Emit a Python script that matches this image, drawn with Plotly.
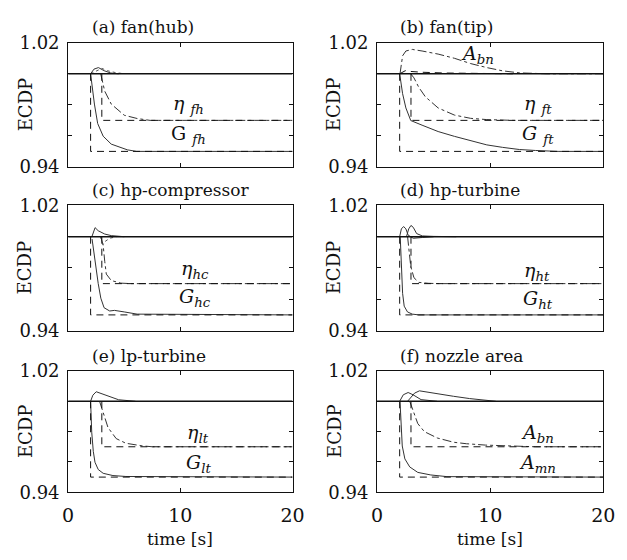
import plotly.graph_objects as go

# ---------------- data ----------------
# common reference / true-fault curves
base_t = [0, 20]
base_v = [1.0, 1.0]
fault2_t = [2.0, 2.0, 20]          # step fault at t = 2 s (to 0.95)
fault2_v = [1.0, 0.95, 0.95]
fault3_t = [3.0, 3.0, 20]          # step fault at t = 3 s (to 0.97)
fault3_v = [1.0, 0.97, 0.97]

# (a) fan(hub)
a_G_t = [2.0, 2.34, 2.63, 3.12, 3.84, 5.28, 6.1, 20]
a_G_v = [1.0, 0.9805, 0.968, 0.9598, 0.9547, 0.951, 0.950, 0.950]
a_eta_t = [2.9, 3.26, 3.84, 5.0, 6.15, 7.3, 20]
a_eta_v = [1.0, 0.9888, 0.9805, 0.9733, 0.9712, 0.970, 0.970]
a_o1_t = [2.0, 2.3, 2.7, 3.2, 3.8, 4.5]
a_o1_v = [1.0, 1.003, 1.004, 1.002, 1.0005, 1.0]
a_o2_t = [2.0, 2.5, 3.0, 3.5, 4.2, 5.0]
a_o2_v = [1.0, 1.002, 1.0035, 1.002, 1.0008, 1.0]

# (b) fan(tip)
b_A_t = [2.03, 2.26, 2.55, 3.12, 3.98, 5.4, 6.84, 8.27, 9.7, 11.1, 12.6, 13.4, 15.0, 20]
b_A_v = [1.0, 1.0116, 1.0147, 1.0157, 1.0147, 1.0127, 1.010, 1.0066, 1.004, 1.0019, 1.0006, 1.0003, 1.0, 1.0]
b_eta_t = [2.98, 3.26, 3.69, 4.27, 5.4, 6.84, 8.27, 9.7, 12.0, 20]
b_eta_v = [1.0, 0.9974, 0.9913, 0.9852, 0.978, 0.9734, 0.9713, 0.9705, 0.970, 0.970]
b_G_t = [2.0, 2.26, 2.55, 2.98, 3.98, 5.4, 6.84, 8.27, 9.7, 11.1, 12.6, 14.0, 16.0, 20]
b_G_v = [1.0, 0.9872, 0.978, 0.9699, 0.9669, 0.9628, 0.9597, 0.9567, 0.9542, 0.9526, 0.9512, 0.9506, 0.950, 0.950]
b_o1_t = [2.0, 2.5, 3.0, 4.0, 6.0, 9.0, 12.0]
b_o1_v = [1.0, 1.002, 1.0015, 1.001, 1.0005, 1.0002, 1.0]

# (c) hp-compressor
c_G_t = [2.13, 2.45, 2.68, 2.91, 3.2, 3.7, 4.13, 5.0, 6.15, 20]
c_G_v = [0.9985, 0.980, 0.970, 0.9607, 0.9546, 0.9525, 0.9529, 0.9519, 0.9505, 0.950]
c_eta_t = [2.9, 3.12, 3.26, 3.4, 3.84, 4.7, 5.6, 20]
c_eta_v = [1.0, 0.9946, 0.9843, 0.9761, 0.972, 0.9703, 0.970, 0.970]
c_o1_t = [2.1, 2.4, 2.68, 3.26, 3.84, 5.0]
c_o1_v = [0.9997, 1.0058, 1.0038, 1.0017, 1.0007, 1.0]
c_o2_t = [2.9, 3.1, 3.3, 3.7, 4.3]
c_o2_v = [1.0, 0.995, 0.997, 0.999, 1.0]

# (d) hp-turbine
d_G_t = [2.05, 2.2, 2.26, 2.4, 2.69, 3.12, 3.69, 20]
d_G_v = [1.0, 0.9802, 0.9638, 0.9556, 0.9519, 0.9505, 0.950, 0.950]
d_eta_t = [2.7, 2.98, 3.26, 3.69, 4.55, 5.5, 20]
d_eta_v = [1.0, 0.981, 0.9738, 0.9708, 0.9702, 0.970, 0.970]
d_o1_t = [2.0, 2.15, 2.35, 2.55, 2.75, 3.2, 4.0, 5.0]
d_o1_v = [1.0, 1.005, 1.0065, 1.005, 1.001, 0.999, 0.9995, 1.0]
d_o2_t = [2.6, 2.8, 3.0, 3.2, 3.5, 4.0, 5.0, 7.0]
d_o2_v = [1.0, 1.005, 1.0072, 1.006, 1.002, 1.0005, 1.0002, 1.0]

# (e) lp-turbine
e_G_t = [2.0, 2.1, 2.24, 2.39, 2.68, 3.12, 3.99, 5.15, 20]
e_G_v = [1.0, 0.9796, 0.967, 0.9598, 0.955, 0.9525, 0.951, 0.9504, 0.950]
e_eta_t = [2.8, 3.12, 3.55, 4.28, 5.15, 6.6, 7.5, 20]
e_eta_v = [1.0, 0.992, 0.9827, 0.9754, 0.9723, 0.9706, 0.970, 0.970]
e_o1_t = [2.0, 2.2, 2.5, 3.0, 3.6, 4.5, 6.0]
e_o1_v = [1.0, 1.004, 1.0063, 1.005, 1.003, 1.001, 1.0]

# (f) nozzle area
f_mn_t = [2.03, 2.12, 2.23, 2.46, 2.89, 3.6, 4.75, 6.18, 20]
f_mn_v = [1.0, 0.9832, 0.9705, 0.962, 0.9567, 0.9531, 0.9514, 0.9503, 0.950]
f_bn_t = [2.89, 3.18, 3.6, 4.18, 5.32, 6.76, 7.9, 9.6, 11.5, 14.0, 20]
f_bn_v = [1.0, 0.9938, 0.9853, 0.980, 0.9758, 0.973, 0.972, 0.9711, 0.9705, 0.970, 0.970]
f_o1_t = [2.7, 3.32, 3.75, 5.32, 6.76, 8.18, 9.6, 10.5]
f_o1_v = [1.0, 1.0054, 1.0069, 1.0048, 1.0033, 1.0018, 1.0005, 1.0]
f_o2_t = [2.0, 2.32, 2.75, 3.18, 3.89, 5.3]
f_o2_v = [1.0, 1.0043, 1.0058, 1.0043, 1.0011, 1.0]

titles = ["(a) fan(hub)", "(b) fan(tip)", "(c) hp-compressor",
          "(d) hp-turbine", "(e) lp-turbine", "(f) nozzle area"]
x_ticks = [0, 10, 20]
y_ticks = [0.94, 1.02]
y_ticktext = ["0.94", "1.02"]
y_minor_ticks = [0.96, 0.98, 1.00]

# ---------------- figure ----------------
W, H = 627, 560
FONT = "DejaVu Serif"
INK = "#111111"

col_dom = [(64 / W, 295 / W), (382 / W, 615 / W)]
row_px = [(33, 162), (202, 332), (374, 500)]
row_dom = [(1 - b / H, 1 - t / H) for (t, b) in row_px]

solid_est = dict(color="#333333", width=1)
dashdot_est = dict(color="#333333", width=1, dash="dashdot")
dotted = dict(color="#555555", width=1, dash="dot")
true_dash = dict(color=INK, width=1, dash="7px,5px")

panels = [
    dict(est=[(a_G_t, a_G_v, solid_est), (a_eta_t, a_eta_v, dashdot_est),
              (a_o1_t, a_o1_v, solid_est), (a_o2_t, a_o2_v, dotted)],
         faults=[(fault2_t, fault2_v), (fault3_t, fault3_v)],
         labels=[(10.7, 0.980, "<i>η</i> <sub><i>fh</i></sub>"),
                 (10.7, 0.961, "G <sub><i>fh</i></sub>")]),
    dict(est=[(b_A_t, b_A_v, dashdot_est), (b_eta_t, b_eta_v, dashdot_est),
              (b_G_t, b_G_v, solid_est), (b_o1_t, b_o1_v, true_dash)],
         faults=[(fault2_t, fault2_v), (fault3_t, fault3_v)],
         labels=[(8.9, 1.0127, "<i>A<sub>bn</sub></i>"),
                 (14.2, 0.980, "<i>η</i> <sub><i>ft</i></sub>"),
                 (14.2, 0.961, "<i>G</i> <sub><i>ft</i></sub>")]),
    dict(est=[(c_G_t, c_G_v, solid_est), (c_eta_t, c_eta_v, dashdot_est),
              (c_o1_t, c_o1_v, solid_est), (c_o2_t, c_o2_v, dotted)],
         faults=[(fault2_t, fault2_v), (fault3_t, fault3_v)],
         labels=[(11.3, 0.979, "<i>η<sub>hc</sub></i>"),
                 (11.3, 0.961, "<i>G<sub>hc</sub></i>")]),
    dict(est=[(d_G_t, d_G_v, solid_est), (d_eta_t, d_eta_v, dashdot_est),
              (d_o1_t, d_o1_v, solid_est), (d_o2_t, d_o2_v, solid_est)],
         faults=[(fault2_t, fault2_v), (fault3_t, fault3_v)],
         labels=[(14.1, 0.978, "<i>η<sub>ht</sub></i>"),
                 (14.2, 0.960, "<i>G<sub>ht</sub></i>")]),
    dict(est=[(e_G_t, e_G_v, solid_est), (e_eta_t, e_eta_v, dashdot_est),
              (e_o1_t, e_o1_v, solid_est)],
         faults=[(fault2_t, fault2_v), (fault3_t, fault3_v)],
         labels=[(11.6, 0.979, "<i>η<sub>lt</sub></i>"),
                 (11.6, 0.959, "<i>G<sub>lt</sub></i>")]),
    dict(est=[(f_mn_t, f_mn_v, solid_est), (f_bn_t, f_bn_v, dashdot_est),
              (f_o1_t, f_o1_v, solid_est), (f_o2_t, f_o2_v, solid_est)],
         faults=[(fault2_t, fault2_v), (fault3_t, fault3_v)],
         labels=[(14.2, 0.979, "<i>A<sub>bn</sub></i>"),
                 (14.2, 0.959, "<i>A<sub>mn</sub></i>")]),
]

fig = go.Figure()
annotations = []
layout_axes = {}

for i, p in enumerate(panels):
    r, c = divmod(i, 2)
    n = "" if i == 0 else str(i + 1)
    xa, ya = "x" + n, "y" + n
    # estimates
    for (tt, vv, ln) in p["est"]:
        fig.add_trace(go.Scatter(x=tt, y=vv, mode="lines", line=ln,
                                 xaxis=xa, yaxis=ya, showlegend=False, hoverinfo="skip"))
    # true faults
    for (tt, vv) in p["faults"]:
        fig.add_trace(go.Scatter(x=tt, y=vv, mode="lines", line=true_dash,
                                 xaxis=xa, yaxis=ya, showlegend=False, hoverinfo="skip"))
    # nominal line
    fig.add_trace(go.Scatter(x=base_t, y=base_v, mode="lines",
                             line=dict(color=INK, width=1.6),
                             xaxis=xa, yaxis=ya, showlegend=False, hoverinfo="skip"))
    for (lx, ly, txt) in p["labels"]:
        annotations.append(dict(x=lx, y=ly, xref=xa, yref=ya, text=txt, showarrow=False,
                                font=dict(family=FONT, size=19, color=INK)))

    bottom = (r == 2)
    layout_axes["xaxis" + n] = dict(
        domain=list(col_dom[c]), anchor=ya, range=[0, 20],
        tickvals=x_ticks, showticklabels=bottom, ticks="inside", ticklen=4,
        showline=True, mirror="ticks", linecolor=INK, linewidth=1, tickcolor=INK,
        showgrid=False, zeroline=False, fixedrange=True, ticklabelstandoff=6,
        tickfont=dict(family=FONT, size=19, color=INK))
    layout_axes["yaxis" + n] = dict(
        domain=list(row_dom[r]), anchor=xa, range=[0.94, 1.02],
        tickvals=y_ticks, ticktext=y_ticktext, ticks="inside", ticklen=4,
        minor=dict(tickvals=y_minor_ticks, ticks="inside", ticklen=4, tickcolor=INK, showgrid=False),
        showline=True, mirror="ticks", linecolor=INK, linewidth=1, tickcolor=INK,
        showgrid=False, zeroline=False, fixedrange=True, ticklabelstandoff=4,
        tickfont=dict(family=FONT, size=18, color=INK))

    # panel title
    left_px = col_dom[c][0] * W
    top_px = row_px[r][0]
    annotations.append(dict(x=(left_px + 22) / W, y=1 - (top_px - 16) / H, xref="paper", yref="paper",
                            xanchor="left", yanchor="middle", text=titles[i], showarrow=False,
                            font=dict(family=FONT, size=17, color=INK)))
    # y title
    annotations.append(dict(x=(left_px - 44) / W, y=1 - (sum(row_px[r]) / 2) / H,
                            xref="paper", yref="paper", xanchor="center", yanchor="middle",
                            text="ECDP", textangle=-90, showarrow=False,
                            font=dict(family=FONT, size=18, color=INK)))
    if bottom:
        annotations.append(dict(x=(sum(col_dom[c]) / 2), y=1 - 549 / H,
                                xref="paper", yref="paper", xanchor="center", yanchor="middle",
                                text="time [s]", showarrow=False,
                                font=dict(family=FONT, size=17, color=INK)))

fig.update_layout(width=W, height=H, margin=dict(l=0, r=0, t=0, b=0),
                  paper_bgcolor="white", plot_bgcolor="white",
                  annotations=annotations, showlegend=False, **layout_axes)

fig.write_html("out.html")
